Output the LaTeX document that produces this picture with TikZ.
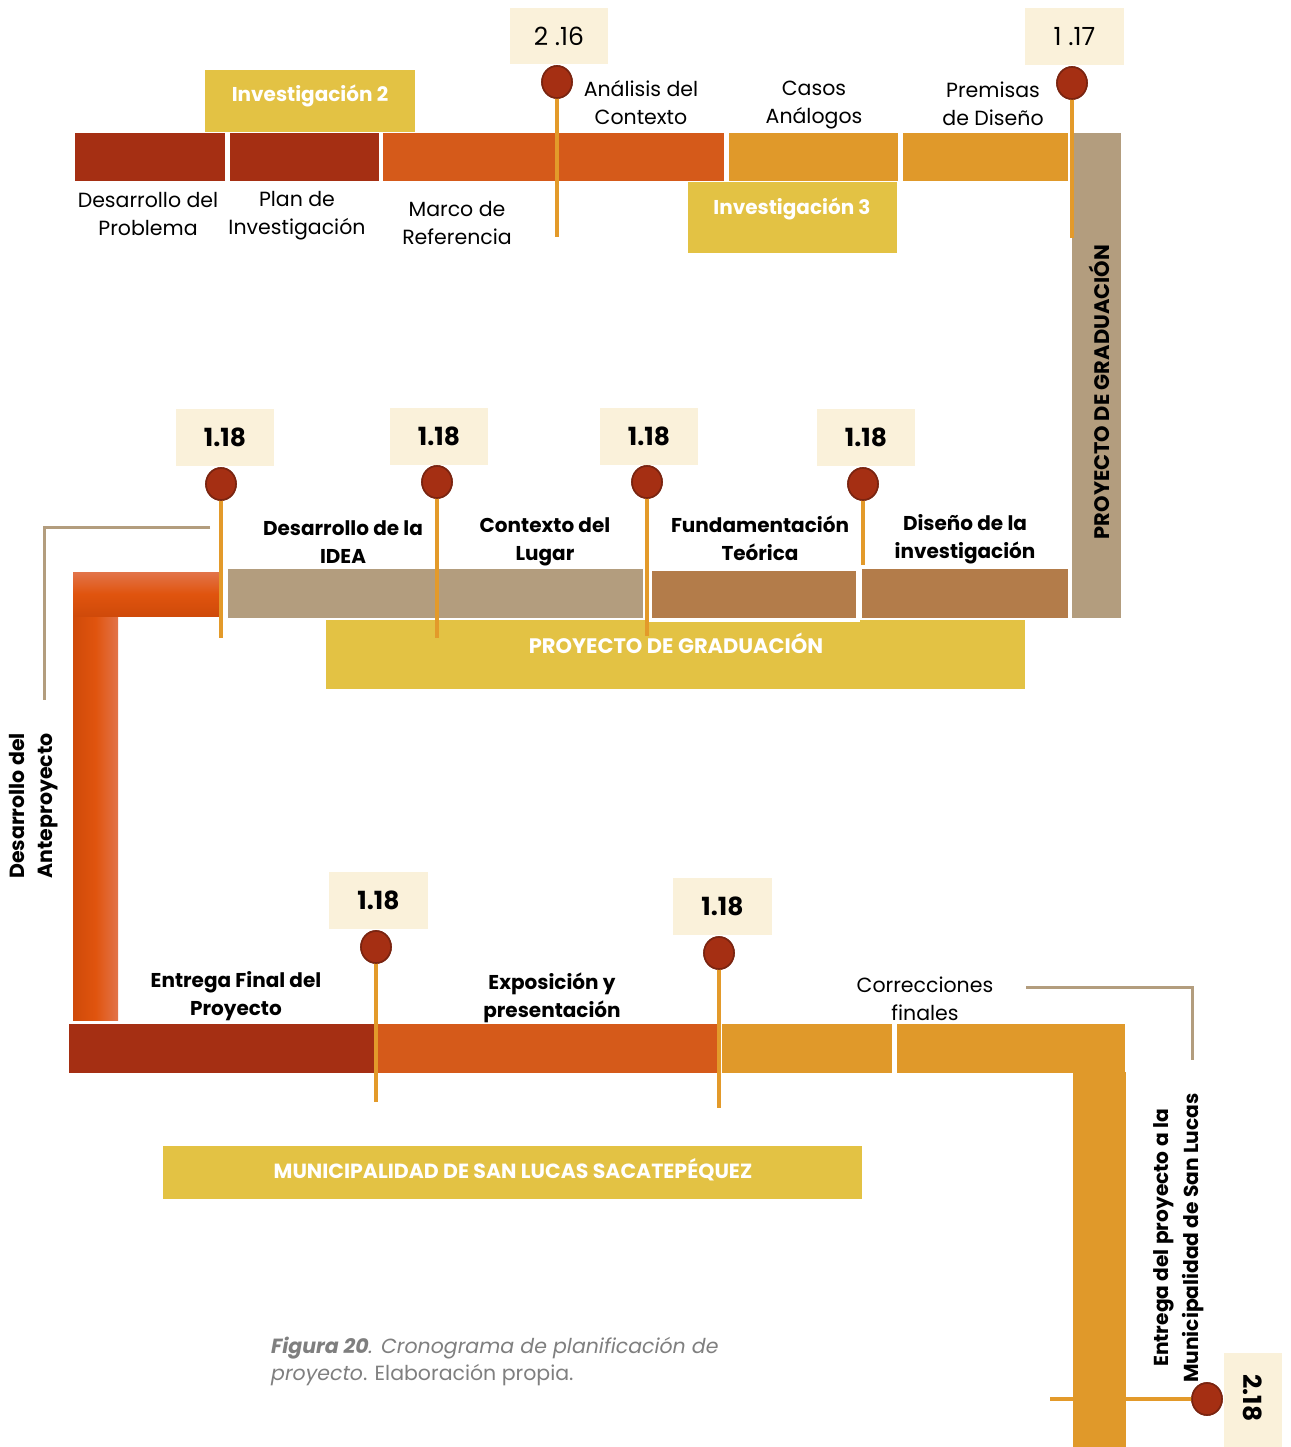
\documentclass[tikz,border=0pt]{standalone}
\usepackage{fontspec}
\setmainfont{Poppins}
\usetikzlibrary{shapes.geometric}
\definecolor{gold}{HTML}{E3C244}
\definecolor{cream}{HTML}{FAF1DA}
\definecolor{redbar}{HTML}{A52F13}
\definecolor{orangebar}{HTML}{D55A1A}
\definecolor{amberbar}{HTML}{E0992A}
\definecolor{tanbar}{HTML}{B39D7E}
\definecolor{brownbar}{HTML}{B37C4A}
\definecolor{stemc}{HTML}{E39A2A}
\definecolor{pinedge}{HTML}{7A2410}
\definecolor{capgray}{HTML}{7F7F7F}
\definecolor{Lmid}{HTML}{E0540E}
\definecolor{Ldark}{HTML}{CF4A0A}
\definecolor{Llight}{HTML}{E2744A}
\tikzset{
  bar/.style={rectangle, inner sep=0pt, outer sep=0pt, draw=none, anchor=north west},
  numbox/.style={rectangle, fill=cream, inner sep=0pt, outer sep=0pt, anchor=north west},
  pinhead/.style={ellipse, fill=redbar, draw=pinedge, line width=1.6pt,
    minimum width=30pt, minimum height=32pt, inner sep=0pt, outer sep=0pt},
  stem/.style={draw=stemc, line width=3.5pt},
  bracket/.style={draw=tanbar, line width=3pt},
  lbl/.style={align=center, inner sep=0pt, font=\fontsize{20.5}{28}\selectfont},
  blbl/.style={align=center, inner sep=0pt, font=\fontsize{20}{28}\selectfont\bfseries},
  wtxt/.style={inner sep=0pt, text=white, font=\fontsize{20}{24}\selectfont\bfseries},
  numtxt/.style={inner sep=0pt, font=\fontsize{25}{28}\selectfont},
  bnumtxt/.style={inner sep=0pt, font=\fontsize{25}{28}\selectfont\bfseries},
  vtxt/.style={inner sep=0pt, rotate=90, align=center, font=\fontsize{20.5}{28}\selectfont\bfseries},
}
% \seg{name}{x1}{y1}{x2}{y2}{colour}: a filled bar segment
\newcommand\seg[6]{\node[bar, fill=#6, minimum width={#4pt-#2pt}, minimum height={#5pt-#3pt}] (#1) at (#2,#3) {};}
% \nbox{name}{x1}{y1}{x2}{y2}: a date box
\newcommand\nbox[5]{\node[numbox, minimum width={#4pt-#2pt}, minimum height={#5pt-#3pt}] (#1) at (#2,#3) {};}
\begin{document}
\begin{tikzpicture}[x=1pt, y=-1pt]
\useasboundingbox (0,0) rectangle (1290,1447);
\fill[white] (0,0) rectangle (1290,1447);

% ---------- first phase ----------
\seg{inv2}{205}{70}{415}{132}{gold}
\node[wtxt] (inv2t) at (310,96) {Investigación 2};
\seg{t1}{75}{133}{225}{181}{redbar}
\seg{t2}{230}{133}{379}{181}{redbar}
\seg{t3}{383}{133}{724}{181}{orangebar}
\seg{t4}{729}{133}{898}{181}{amberbar}
\seg{t5}{903}{133}{1068}{181}{amberbar}
\seg{inv3}{688}{182}{897}{253}{gold}
\node[wtxt] (inv3t) at (792,209) {Investigación 3};
\seg{pgv}{1072}{133}{1121}{618}{tanbar}
\node[inner sep=0pt, rotate=90, font=\fontsize{21}{24}\selectfont\bfseries] (pgvt) at (1099,392) {PROYECTO DE GRADUACIÓN};

\node[lbl] (l1) at (148,214) {Desarrollo del\\Problema};
\node[lbl] (l2) at (297,216) {Plan de\\Investigación};
\node[lbl] (l3) at (457,223) {Marco de\\Referencia};
\node[lbl] (l4) at (641,103) {Análisis del\\Contexto};
\node[lbl] (l5) at (814,105) {Casos\\Análogos};
\node[lbl] (l6) at (993,104) {Premisas\\de Diseño};

% milestone pins of the first phase
\coordinate (e216) at (556,237);
\coordinate (e117) at (1070,238);
\node[pinhead] (p216) at (557,82) {};
\node[pinhead] (p117) at (1072,83) {};
\draw[stem] (p216.south) -- (p216.south |- e216);
\draw[stem] (p117.south) -- (p117.south |- e117);
\node[pinhead] at (p216) {};
\node[pinhead] at (p117) {};
\nbox{b216}{510}{8}{608}{64}
\node[numtxt] (n216) at (b216) {2 .16};
\nbox{b117}{1025}{8}{1124}{65}
\node[numtxt] (n117) at (b117) {1 .17};

% ---------- second phase ----------
\seg{pg}{326}{620}{1025}{689}{gold}
\node[wtxt, font=\fontsize{21}{24}\selectfont\bfseries] (pgt) at (676,643) {PROYECTO DE GRADUACIÓN};
\seg{m1}{228}{569}{434}{618}{tanbar}
\seg{m2}{434}{569}{643}{618}{tanbar}
\node[bar, fill=brownbar, draw=white, line width=3.5pt, minimum width=208pt, minimum height=51pt] (m3) at (650,569) {};
\seg{m4}{862}{569}{1068}{618}{brownbar}

% orange elbow leading down to the third phase
\shade[top color=Llight, bottom color=Ldark, middle color=Lmid] (73,572) rectangle (220,616);
\shade[left color=Ldark, right color=Llight, middle color=Lmid] (73,617) rectangle (118,1020);
\coordinate (elbow) at (73,617);

% bracket of the side label
\coordinate (br1) at (210,527);
\coordinate (br2) at (44,527);
\coordinate (br3) at (44,700);
\draw[bracket] (br1) -- (br2) -- (br3);
\node[vtxt] (ante) at (34,806) {Desarrollo del\\Anteproyecto};

\node[blbl] (k1) at (343,542) {Desarrollo de la\\IDEA};
\node[blbl] (k2) at (545,542) {Contexto del\\Lugar};
\node[blbl] (k3) at (760,538) {Fundamentación\\Teórica};
\node[blbl] (k4) at (965,539) {Diseño de la\\investigación};

\coordinate (em1) at (221,638);
\coordinate (em2) at (436,638);
\coordinate (em3) at (646,636);
\coordinate (em4) at (862,565);
\node[pinhead] (q1) at (221,484) {};
\node[pinhead] (q2) at (437,482) {};
\node[pinhead] (q3) at (647,482) {};
\node[pinhead] (q4) at (863,484) {};
\draw[stem] (q1.south) -- (q1.south |- em1);
\draw[stem] (q2.south) -- (q2.south |- em2);
\draw[stem] (q3.south) -- (q3.south |- em3);
\draw[stem] (q4.south) -- (q4.south |- em4);
\node[pinhead] at (q1) {};
\node[pinhead] at (q2) {};
\node[pinhead] at (q3) {};
\node[pinhead] at (q4) {};
\nbox{bq1}{176}{409}{274}{466}
\nbox{bq2}{390}{408}{488}{465}
\nbox{bq3}{600}{408}{698}{465}
\nbox{bq4}{817}{409}{915}{466}
\node[bnumtxt] (nq1) at (bq1) {1.18};
\node[bnumtxt] (nq2) at (bq2) {1.18};
\node[bnumtxt] (nq3) at (bq3) {1.18};
\node[bnumtxt] (nq4) at (bq4) {1.18};

% ---------- third phase ----------
\coordinate (ef) at (1050,1398);
\node[pinhead] (pf) at (1207,1399) {};
\draw[stem] (pf.west) -- (pf.west -| ef);
\seg{s1}{69}{1024}{375}{1073}{redbar}
\seg{s2}{375}{1024}{717}{1073}{orangebar}
\seg{s3}{722}{1024}{892}{1073}{amberbar}
\seg{s4}{897}{1024}{1125}{1073}{amberbar}
\seg{s5}{1073}{1072}{1126}{1447}{amberbar}

\seg{mun}{163}{1146}{862}{1199}{gold}
\node[wtxt, font=\fontsize{20.5}{24}\selectfont\bfseries] (munt) at (513,1170) {MUNICIPALIDAD DE SAN LUCAS SACATEPÉQUEZ};

\node[blbl] (r1) at (236,996) {Entrega Final del\\Proyecto};
\node[blbl] (r2) at (552,998) {Exposición y\\presentación};
\node[lbl] (r3) at (925,999) {Correcciones\\finales};

\coordinate (bb1) at (1026,987);
\coordinate (bb2) at (1192,987);
\coordinate (bb3) at (1192,1060);
\draw[bracket] (bb1) -- (bb2) -- (bb3);
\node[vtxt, font=\fontsize{20.2}{30}\selectfont\bfseries] (entr) at (1179,1238) {Entrega del proyecto a la\\Municipalidad de San Lucas};

\coordinate (er1) at (375,1102);
\coordinate (er2) at (718,1108);
\node[pinhead] (u1) at (376,947) {};
\node[pinhead] (u2) at (719,953) {};
\draw[stem] (u1.south) -- (u1.south |- er1);
\draw[stem] (u2.south) -- (u2.south |- er2);
\node[pinhead] at (u1) {};
\node[pinhead] at (u2) {};
\nbox{bu1}{329}{872}{428}{929}
\nbox{bu2}{673}{878}{772}{935}
\node[bnumtxt] (nu1) at (bu1) {1.18};
\node[bnumtxt] (nu2) at (bu2) {1.18};

\node[pinhead] at (pf) {};
\nbox{bf}{1224}{1353}{1282}{1447}
\node[bnumtxt, rotate=-90] (nf) at (1253,1398) {2.18};

% caption
\node[anchor=north west, align=left, inner sep=0pt, text=capgray,
  font=\fontsize{20.5}{27}\selectfont] (cap) at (271,1337)
  {\textbf{\textit{Figura 20}}\textit{. Cronograma de planificación de}\\\textit{proyecto}. Elaboración propia.};
\end{tikzpicture}
\end{document}
